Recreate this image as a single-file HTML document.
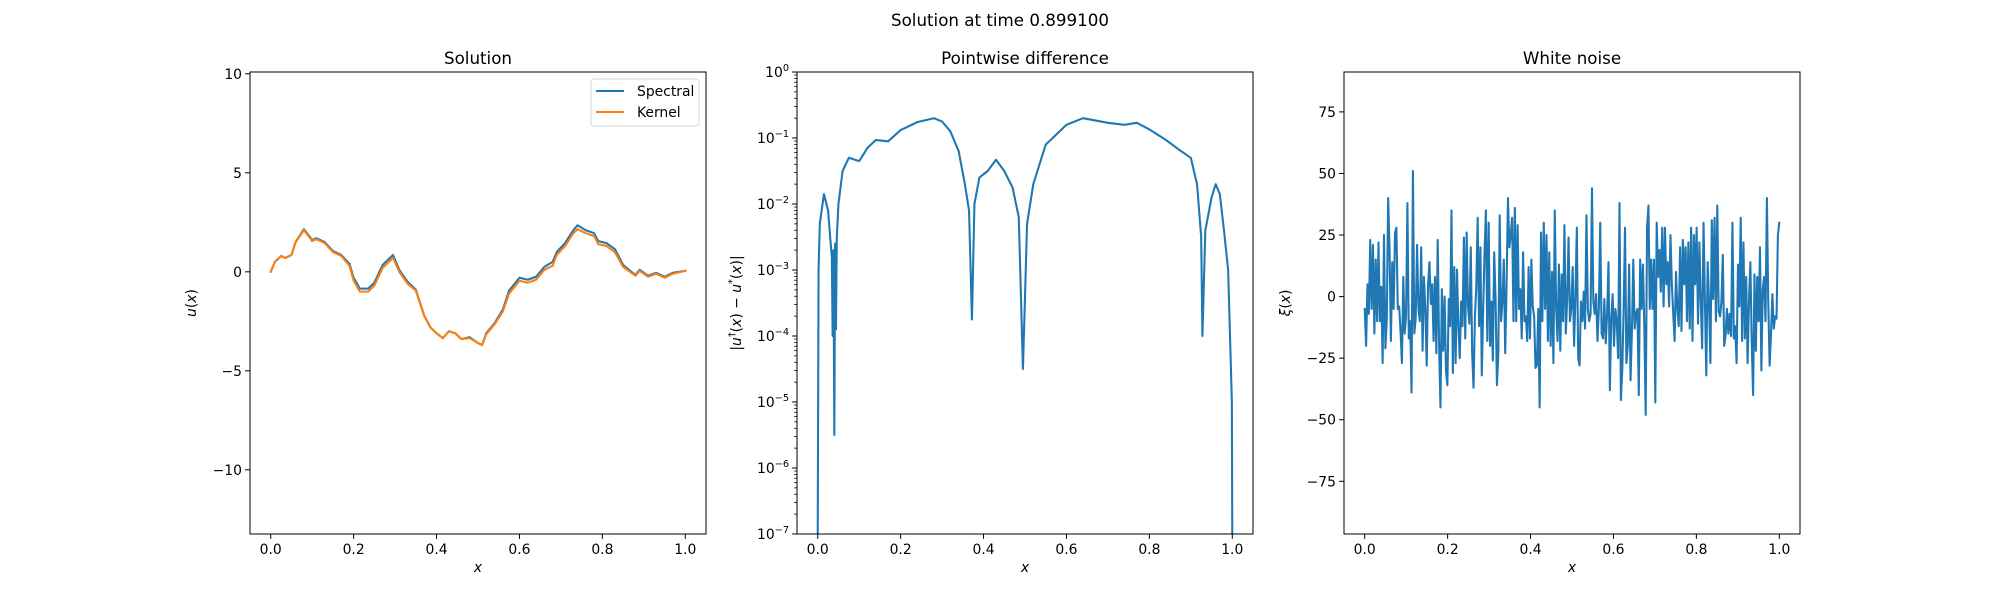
<!DOCTYPE html>
<html><head><meta charset="utf-8"><style>
body{margin:0;background:#fff}
svg{display:block;font-family:"DejaVu Sans","Liberation Sans",sans-serif}
</style></head><body>
<svg id="fig" width="2000" height="600" viewBox="0 0 2000 600" xmlns="http://www.w3.org/2000/svg">
<rect width="2000" height="600" fill="#fff"/>
<text x="1000" y="26" text-anchor="middle" font-size="16.7">Solution at time 0.899100</text>
</svg>
<script>
// ---- Solution panel data ----
const solX = [0,0.01,0.025,0.035,0.05,0.06,0.08,0.095,0.1,0.11,0.13,0.15,0.17,0.19,0.2,0.215,0.235,0.25,0.27,0.28,0.295,0.31,0.33,0.35,0.37,0.385,0.4,0.415,0.43,0.445,0.46,0.48,0.5,0.51,0.52,0.54,0.56,0.575,0.6,0.62,0.64,0.66,0.68,0.69,0.71,0.73,0.74,0.76,0.78,0.79,0.81,0.83,0.85,0.87,0.88,0.89,0.91,0.93,0.95,0.97,1.0];
const kernelY = [0,0.5,0.8,0.7,0.85,1.5,2.1,1.7,1.55,1.65,1.45,1.0,0.8,0.3,-0.45,-1.0,-1.0,-0.7,0.2,0.4,0.7,0.0,-0.6,-0.95,-2.2,-2.8,-3.1,-3.35,-3.0,-3.1,-3.4,-3.35,-3.6,-3.7,-3.15,-2.65,-2.0,-1.1,-0.45,-0.55,-0.4,0.1,0.3,0.85,1.3,1.95,2.15,1.95,1.8,1.4,1.3,1.0,0.25,-0.05,-0.2,0.05,-0.25,-0.1,-0.3,-0.1,0.05];
const spectralY = [0,0.5,0.8,0.7,0.85,1.5,2.15,1.75,1.6,1.7,1.5,1.05,0.85,0.4,-0.3,-0.85,-0.85,-0.55,0.35,0.55,0.85,0.1,-0.5,-0.9,-2.2,-2.8,-3.1,-3.35,-3.0,-3.1,-3.4,-3.3,-3.6,-3.7,-3.1,-2.6,-1.9,-0.95,-0.3,-0.4,-0.25,0.25,0.5,1.0,1.45,2.1,2.35,2.1,1.95,1.55,1.45,1.15,0.35,0.0,-0.15,0.1,-0.2,-0.05,-0.25,-0.05,0.05];
const solYTicks = [-10,-5,0,5,10];
// ---- Pointwise difference data (log10 of |u-u*|) ----
const diffX = [0,0.002,0.005,0.015,0.025,0.03,0.034,0.036,0.038,0.04,0.042,0.044,0.046,0.05,0.06,0.075,0.1,0.12,0.14,0.17,0.2,0.24,0.28,0.3,0.32,0.34,0.355,0.365,0.372,0.378,0.39,0.41,0.43,0.45,0.47,0.485,0.495,0.505,0.52,0.55,0.6,0.64,0.7,0.74,0.77,0.8,0.84,0.87,0.9,0.915,0.925,0.928,0.935,0.95,0.96,0.97,0.98,0.99,0.995,0.999,1.0];
const diffLog = [-7,-3,-2.3,-1.85,-2.1,-2.5,-2.8,-4.0,-2.7,-5.5,-2.6,-3.9,-2.5,-2.0,-1.5,-1.3,-1.35,-1.15,-1.03,-1.05,-0.88,-0.76,-0.7,-0.75,-0.9,-1.2,-1.7,-2.1,-3.75,-2.0,-1.6,-1.5,-1.33,-1.5,-1.75,-2.2,-4.5,-2.3,-1.7,-1.1,-0.8,-0.7,-0.77,-0.8,-0.77,-0.87,-1.03,-1.17,-1.3,-1.7,-2.5,-4.0,-2.4,-1.9,-1.7,-1.85,-2.4,-3.0,-4.1,-5.0,-7];
const diffYTickExp = [-7,-6,-5,-4,-3,-2,-1,0];
// ---- White noise data ----
const noiseY = [-5,-20,5,-7,23,-5,21,-15,15,-10,22,-10,4,-27,25,-21,-10,40,20,-18,14,-5,26,28,-5,-4,-14,-27,8,-15,-8,38,-17,-10,-39,51,-15,-9,21,-5,-10,20,-22,8,-5,-28,5,14,-3,5,-18,8,-23,23,-20,-45,3,-22,0,-30,-36,-1,-12,35,-31,12,-27,11,-12,-25,-2,-12,24,-17,26,-4,-11,20,-23,-37,-8,4,32,-12,20,-32,-5,18,35,-18,30,-20,-2,-26,18,-1,-36,-23,33,-10,-2,15,-23,5,40,20,25,32,-10,36,-10,29,-5,3,-17,18,-10,-8,-18,12,-17,15,-4,-8,-29,-28,-5,-45,26,-10,30,-5,25,-18,18,-20,10,-27,35,-5,-18,13,-22,9,-10,29,-15,-1,24,-10,-5,12,-20,0,28,-25,-28,-2,-10,2,-13,33,-5,-10,-7,44,-2,-7,1,-18,-5,30,-15,-17,-1,-19,-7,14,-38,-9,1,-20,-5,-10,-25,38,-42,-30,-5,28,-27,-20,13,-34,-14,15,-13,-7,-5,-40,15,-5,13,-12,-48,28,37,-5,15,-5,15,-43,30,8,19,2,28,-4,28,5,14,-4,25,5,-7,-18,10,-5,-12,20,-14,23,5,20,-10,22,-13,28,-18,25,5,28,-11,22,-2,-21,30,-1,-32,14,-2,-27,31,-1,32,-10,37,-6,-8,-2,17,-20,-16,-5,-15,-7,-16,30,-17,-12,-27,13,-4,32,-18,22,-17,8,-27,-2,14,-18,-40,9,-22,8,-10,20,-30,3,8,-10,40,-2,-28,-15,1,-13,-8,-9,25,30];
const noiseYTicks = [-75,-50,-25,0,25,50,75];
const xTicks = [0,0.2,0.4,0.6,0.8,1.0];

const NS="http://www.w3.org/2000/svg";
const svg=document.getElementById('fig');
function mk(tag,attrs,parent){const e=document.createElementNS(NS,tag);for(const k in attrs)e.setAttribute(k,attrs[k]);(parent||svg).appendChild(e);return e;}
const TOP=72,BOT=534;
function panel(name,L,R,ymin,ymax,log){
  const g=mk('g',{});
  
  
  const sx=v=>L+(v+0.05)/1.1*(R-L);
  const sy=v=>BOT-(v-ymin)/(ymax-ymin)*(BOT-TOP);
  return {g,sx,sy,L,R};
}
function frame(p){
  const r=mk('rect',{x:p.L,y:TOP,width:p.R-p.L,height:BOT-TOP,fill:'none',stroke:'#000','stroke-width':1},p.g);
  
  
}
function xaxis(p){
  xTicks.forEach(t=>{
    const x=p.sx(t);
    const l=mk('line',{x1:x,x2:x,y1:BOT,y2:BOT+4.9,stroke:'#000','stroke-width':1},p.g);
    
    
    const tx=mk('text',{x:x,y:BOT+20,'text-anchor':'middle','font-size':13.9},p.g);
    
    
    tx.textContent=t.toFixed(1);
  });
  const xl=mk('text',{x:(p.L+p.R)/2,y:572,'text-anchor':'middle','font-size':13.9,'font-style':'italic'},p.g);
  
  
  xl.textContent='x';
}
function yaxisLin(p,ticks){
  ticks.forEach(t=>{
    const y=p.sy(t);
    const l=mk('line',{x1:p.L-4.9,x2:p.L,y1:y,y2:y,stroke:'#000','stroke-width':1},p.g);
    
    
    const tx=mk('text',{x:p.L-8,y:y+5,'text-anchor':'end','font-size':13.9},p.g);
    
    
    tx.textContent=(t<0?'\u2212':'')+Math.abs(t);
  });
}
function title(p,txt){
  const t=mk('text',{x:(p.L+p.R)/2,y:64,'text-anchor':'middle','font-size':16.7},p.g);
  
  
  t.textContent=txt;
}
function ylabel(p,x,html,name){
  const t=mk('text',{x:0,y:0,'text-anchor':'middle','font-size':13.9,transform:`translate(${x},${(TOP+BOT)/2}) rotate(-90)`},p.g);
  
  
  t.innerHTML=html;
}
function line(p,xs,ys,color,name,ymap){
  const d=xs.map((x,i)=>(i?'L':'M')+p.sx(x).toFixed(2)+','+(ymap?ymap(ys[i]):p.sy(ys[i])).toFixed(2)).join('');
  const e=mk('path',{d:d,fill:'none',stroke:color,'stroke-width':2.08,'stroke-linejoin':'round','stroke-linecap':'square'},p.g);
  
  
  return e;
}
function clip(p,id){
  const c=mk('clipPath',{id:id});
  mk('rect',{x:p.L,y:TOP,width:p.R-p.L,height:BOT-TOP},c);
}

// Panel 1
const p1=panel('solution-panel',250,706,-13.24,10.09);
clip(p1,'c1');
const s1=line(p1,solX,spectralY,'#1f77b4','spectral-line');
s1.setAttribute('clip-path','url(#c1)');
const k1=line(p1,solX,kernelY,'#ff7f0e','kernel-line');
k1.setAttribute('clip-path','url(#c1)');
frame(p1);xaxis(p1);yaxisLin(p1,solYTicks);title(p1,'Solution');
ylabel(p1,196,'<tspan font-style="italic">u</tspan>(<tspan font-style="italic">x</tspan>)','y-axis-title');
// legend
const lg=mk('g',{},p1.g);


mk('rect',{x:591,y:79,width:108,height:47,rx:3,fill:'#fff',stroke:'#ccc','stroke-width':1,opacity:0.8},lg);
const le1=mk('g',{},lg);


mk('line',{x1:596,x2:624,y1:91,y2:91,stroke:'#1f77b4','stroke-width':2.08},le1);
mk('text',{x:637,y:96,'font-size':13.9},le1).textContent='Spectral';
const le2=mk('g',{},lg);


mk('line',{x1:596,x2:624,y1:112,y2:112,stroke:'#ff7f0e','stroke-width':2.08},le2);
mk('text',{x:637,y:117,'font-size':13.9},le2).textContent='Kernel';

// Panel 2 (log)
const p2=panel('pointwise-difference-panel',797,1253,-7,0);
clip(p2,'c2');
const dl=line(p2,diffX,diffLog,'#1f77b4','difference-line');
dl.setAttribute('clip-path','url(#c2)');
frame(p2);xaxis(p2);title(p2,'Pointwise difference');
diffYTickExp.forEach(e=>{
  const y=p2.sy(e);
  const l=mk('line',{x1:797-4.9,x2:797,y1:y,y2:y,stroke:'#000','stroke-width':1},p2.g);
  
  
  const tx=mk('text',{x:789,y:y+5,'text-anchor':'end','font-size':13.9},p2.g);
  
  
  tx.innerHTML='10<tspan font-size="9.7" dy="-6">'+(e<0?'\u2212':'')+Math.abs(e)+'</tspan>';
  if(e<0){for(let m=2;m<=9;m++){const ym=p2.sy(e+Math.log10(m));
    const ml=mk('line',{x1:797-2.8,x2:797,y1:ym,y2:ym,stroke:'#000','stroke-width':0.8},p2.g);
    
    }}
});
ylabel(p2,741,'|<tspan font-style="italic">u</tspan><tspan font-size="9.7" dy="-6">\u2020</tspan><tspan dy="6">(</tspan><tspan font-style="italic">x</tspan>) \u2212 <tspan font-style="italic">u</tspan><tspan font-size="9.7" dy="-6">*</tspan><tspan dy="6">(</tspan><tspan font-style="italic">x</tspan>)|','y-axis-title');

// Panel 3
const p3=panel('white-noise-panel',1344,1800,-96.4,91.2);
const noiseX=noiseY.map((v,i)=>i/(noiseY.length-1));
line(p3,noiseX,noiseY,'#1f77b4','noise-line');
frame(p3);xaxis(p3);yaxisLin(p3,noiseYTicks);title(p3,'White noise');
ylabel(p3,1290,'<tspan font-style="italic">\u03be</tspan>(<tspan font-style="italic">x</tspan>)','y-axis-title');
</script>
</body></html>
